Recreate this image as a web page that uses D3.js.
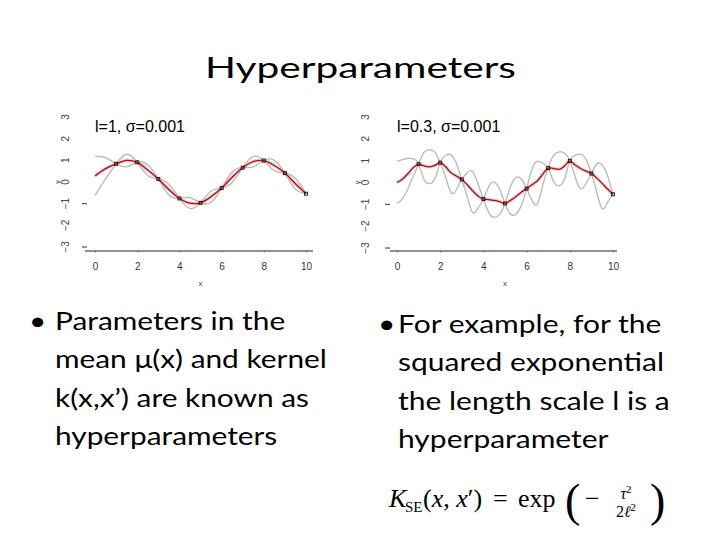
<!DOCTYPE html>
<html>
<head>
<meta charset="utf-8">
<script src="https://cdn.jsdelivr.net/npm/d3@7"></script>
<style>
  body { margin: 0; background: #fff; }
  svg { display: block; }
</style>
</head>
<body>
<svg width="720" height="540"></svg>
<script>
var gridL = [0, 0.5, 1, 1.5, 2, 2.5, 3, 3.5, 4, 4.5, 5, 5.5, 6, 6.5, 7, 7.5, 8, 8.5, 9, 9.5, 10];
var gridR = [0, 0.25, 0.5, 0.75, 1, 1.25, 1.5, 1.75, 2, 2.25, 2.5, 2.75, 3, 3.25, 3.5, 3.75, 4, 4.25, 4.5, 4.75,
             5, 5.25, 5.5, 5.75, 6, 6.25, 6.5, 6.75, 7, 7.25, 7.5, 7.75, 8, 8.25, 8.5, 8.75, 9, 9.25, 9.5, 9.75, 10];

// observations (same in both panels)
var obsX = [1, 2, 3, 4, 5, 6, 7, 8, 9, 10];
var obsY = [0.84, 0.91, 0.14, -0.76, -0.96, -0.28, 0.66, 0.99, 0.41, -0.54];

// left panel, l=1
var meanL  = [0.28, 0.62, 0.84, 1.0, 0.91, 0.55, 0.14, -0.35, -0.76, -0.98, -0.96, -0.68, -0.28, 0.22, 0.66, 0.94, 0.99, 0.76, 0.41, -0.08, -0.54];
var grayL1 = [1.18, 1.12, 0.84, 0.70, 0.91, 0.80, 0.14, -0.60, -0.76, -0.72, -0.96, -0.93, -0.28, 0.46, 0.66, 0.70, 0.99, 1.0, 0.41, -0.33, -0.54];
var grayL2 = [-0.62, 0.14, 0.84, 1.28, 0.91, 0.30, 0.14, -0.10, -0.76, -1.22, -0.96, -0.43, -0.28, -0.02, 0.66, 1.18, 0.99, 0.52, 0.41, 0.17, -0.54];

// right panel, l=0.3
var meanR  = [0.0, 0.15, 0.4, 0.68, 0.84, 0.76, 0.72, 0.78, 0.91, 0.72, 0.45, 0.3, 0.14, -0.1, -0.38, -0.62, -0.76, -0.78, -0.82, -0.88,
              -0.96, -0.82, -0.65, -0.45, -0.28, -0.1, 0.08, 0.38, 0.66, 0.64, 0.6, 0.75, 0.99, 0.8, 0.64, 0.52, 0.41, 0.2, -0.04, -0.3, -0.54];
var grayR1 = [0.97, 1.05, 1.1, 1.08, 0.84, 0.14, -0.05, 0.16, 0.91, 1.25, 1.26, 0.87, 0.14, -0.65, -1.38, -1.17, -0.76, -0.18, 0.02, -0.3,
              -0.96, -1.44, -1.45, -1.07, -0.28, 0.62, 0.98, 0.88, 0.66, 0.04, -0.14, 0.15, 0.99, 1.25, 1.3, 1.05, 0.41, -0.45, -1.2, -0.9, -0.54];
var grayR2 = [-0.95, -0.75, -0.3, 0.28, 0.84, 1.38, 1.49, 1.4, 0.91, 0.25, -0.46, -0.33, 0.14, 0.45, 0.5, -0.07, -0.76, -1.38, -1.6, -1.46,
              -0.96, -0.2, 0.22, 0.17, -0.28, -0.82, -0.98, -0.12, 0.66, 1.24, 1.4, 1.35, 0.99, 0.25, -0.3, -0.05, 0.41, 0.85, 0.8, 0.3, -0.54];

var xTicks = [0, 2, 4, 6, 8, 10];
var yTicks = [-3, -2, -1, 0, 1, 2, 3];
var yMarks = [-3, -1];

var title = "Hyperparameters";
var leftLines = ["Parameters in the", "mean \u03bc(x) and kernel", "k(x,x\u2019) are known as", "hyperparameters"];
var rightLines = ["For example, for the", "squared exponential", "the length scale l is a", "hyperparameter"];

var svg = d3.select("svg");
svg.append("rect").attr("width", 720).attr("height", 540).attr("fill", "#fff");

var axisFont = "'Liberation Sans', Arial, sans-serif";
var bodyFont = "Lato, 'Open Sans', sans-serif";

function panel(p) {
    var x = d3.scaleLinear().domain([0, 10]).range([p.left, p.right]);
    var y = d3.scaleLinear().domain([-3, 3]).range([p.bottom, p.top]);
    var g = svg.append("g");

    var smooth = d3.line()
        .x(function(d) { return x(d[0]); })
        .y(function(d) { return y(d[1]); })
        .curve(d3.curveNatural);
    var line = d3.line()
        .x(function(d) { return x(d[0]); })
        .y(function(d) { return y(d[1]); })
        .curve(d3.curveCatmullRom);

    [p.g1, p.g2].forEach(function(arr) {
        g.append("path")
            .datum(d3.zip(p.grid, arr))
            .attr("d", smooth)
            .attr("fill", "none")
            .attr("stroke", "#b8b8b8")
            .attr("stroke-width", 1.3);
    });

    // pinkish halo then dark red mean
    g.append("path")
        .datum(d3.zip(p.grid, p.mean))
        .attr("d", line)
        .attr("fill", "none")
        .attr("stroke", "#f0a8a8")
        .attr("stroke-opacity", 0.6)
        .attr("stroke-width", 3.5);
    g.append("path")
        .datum(d3.zip(p.grid, p.mean))
        .attr("d", line)
        .attr("fill", "none")
        .attr("stroke", "#a81018")
        .attr("stroke-width", 1.3);

    g.selectAll("rect.pt")
        .data(d3.zip(obsX, obsY))
        .enter().append("rect")
        .attr("class", "pt")
        .attr("x", function(d) { return x(d[0]) - 1.5; })
        .attr("y", function(d) { return y(d[1]) - 1.5; })
        .attr("width", 3)
        .attr("height", 3)
        .attr("fill", "none")
        .attr("stroke", "#111")
        .attr("stroke-width", 0.9);

    // x axis
    var ax = g.append("g")
        .attr("transform", "translate(0," + p.axisY + ")")
        .call(d3.axisBottom(x).tickValues(xTicks).tickSize(2).tickPadding(10).tickSizeOuter(0));
    ax.select(".domain").remove();
    ax.selectAll("line").attr("stroke", "#aaa");
    ax.selectAll("text").attr("font-family", axisFont).attr("font-size", 10).attr("fill", "#333");
    g.append("line")
        .attr("x1", p.axisL).attr("x2", p.axisR)
        .attr("y1", p.axisY).attr("y2", p.axisY)
        .attr("stroke", "#222").attr("stroke-width", 1);
    g.append("text")
        .attr("x", x(5)).attr("y", p.axisY + 35)
        .attr("text-anchor", "middle")
        .attr("font-family", axisFont).attr("font-size", 8).attr("fill", "#444")
        .text("x");

    // y tick labels, rotated like R
    g.selectAll("text.yl")
        .data(yTicks)
        .enter().append("text")
        .attr("class", "yl")
        .attr("transform", function(d) { return "translate(" + p.ylabX + "," + y(d) + ") rotate(-90)"; })
        .attr("text-anchor", "middle")
        .attr("font-family", axisFont).attr("font-size", 10).attr("fill", "#444")
        .text(function(d) { return d < 0 ? "\u2212" + Math.abs(d) : d; });
    g.selectAll("line.ym")
        .data(yMarks)
        .enter().append("line")
        .attr("x1", p.tickX).attr("x2", p.tickX + 5)
        .attr("y1", function(d) { return y(d); })
        .attr("y2", function(d) { return y(d); })
        .attr("stroke", "#333").attr("stroke-width", 1);
    g.append("text")
        .attr("transform", "translate(" + (p.ylabX - 9) + "," + y(0) + ") rotate(-90)")
        .attr("text-anchor", "middle")
        .attr("font-family", axisFont).attr("font-size", 7).attr("fill", "#444")
        .text("y");

    g.append("text")
        .attr("x", p.left).attr("y", 132)
        .attr("font-family", axisFont).attr("font-size", 16).attr("fill", "#000")
        .text(p.label);
}

panel({left: 95, right: 306, top: 117, bottom: 247, axisY: 251, axisL: 85, axisR: 313,
       ylabX: 69, tickX: 82, grid: gridL, mean: meanL, g1: grayL1, g2: grayL2, label: "l=1, \u03c3=0.001"});
panel({left: 397, right: 613, top: 117, bottom: 248, axisY: 251, axisL: 390, axisR: 617,
       ylabX: 369, tickX: 385, grid: gridR, mean: meanR, g1: grayR1, g2: grayR2, label: "l=0.3, \u03c3=0.001"});

// title, stretched like the slide
var t = svg.append("text")
    .attr("x", 0).attr("y", 0)
    .attr("font-family", bodyFont).attr("font-size", 29).attr("fill", "#000")
    .text(title);
var tw = t.node().getComputedTextLength();
t.attr("transform", "translate(205,78) scale(" + (311 / tw) + ",1)");

function block(lines, x0, y0, targetW, refIdx, bulletX) {
    var g = svg.append("g");
    var texts = lines.map(function(s, i) {
        return g.append("text")
            .attr("x", 0).attr("y", 0)
            .attr("font-family", bodyFont).attr("font-size", 25).attr("fill", "#000")
            .text(s);
    });
    var sx = targetW / texts[refIdx].node().getComputedTextLength();
    texts.forEach(function(tx, i) {
        tx.attr("transform", "translate(" + x0 + "," + (y0 + i * 38.3) + ") scale(" + sx + ",1)");
    });
    g.append("text")
        .attr("transform", "translate(" + bulletX + "," + y0 + ") scale(" + sx + ",1)")
        .attr("font-family", bodyFont).attr("font-size", 25).attr("fill", "#000")
        .text("\u2022");
}
block(leftLines, 55, 330, 272, 1, 29);
block(rightLines, 398, 333, 266, 1, 378);

// formula K_SE(x,x') = exp(-tau^2 / 2 l^2)
var serif = "'Liberation Serif', 'DejaVu Serif', serif";
var f = svg.append("g").attr("font-family", serif).attr("fill", "#000");
f.append("text").attr("x", 389).attr("y", 507).attr("font-size", 26).attr("font-style", "italic").text("K");
f.append("text").attr("x", 405).attr("y", 512).attr("font-size", 15).text("SE");
var fx = f.append("text").attr("x", 423).attr("y", 507).attr("font-size", 26);
fx.append("tspan").text("(");
fx.append("tspan").attr("font-style", "italic").text("x");
fx.append("tspan").text(", ");
fx.append("tspan").attr("font-style", "italic").text("x");
fx.append("tspan").text("\u2032)");
f.append("text").attr("x", 493).attr("y", 507).attr("font-size", 26).text("=");
f.append("text").attr("x", 518).attr("y", 507).attr("font-size", 26).text("exp");
f.append("text").attr("x", 565).attr("y", 516).attr("font-size", 46).text("(");
f.append("text").attr("x", 585).attr("y", 507).attr("font-size", 26).text("\u2212");
var num = f.append("text").attr("x", 626).attr("y", 499).attr("font-size", 16).attr("text-anchor", "middle");
num.append("tspan").attr("font-style", "italic").text("\u03c4");
num.append("tspan").attr("font-size", 11).attr("dy", -6).text("2");
var den = f.append("text").attr("x", 626).attr("y", 517).attr("font-size", 16).attr("text-anchor", "middle");
den.append("tspan").text("2");
den.append("tspan").attr("font-style", "italic").text("\u2113");
den.append("tspan").attr("font-size", 11).attr("dy", -6).text("2");
f.append("text").attr("x", 650).attr("y", 516).attr("font-size", 46).text(")");
</script>
</body>
</html>
